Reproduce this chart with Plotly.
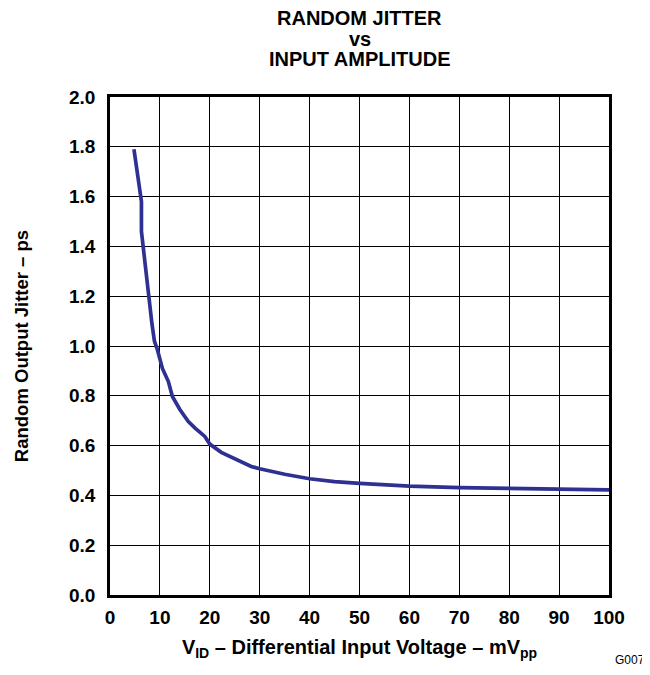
import plotly.graph_objects as go

vid_mvpp = [4.8, 5.5, 6.3, 6.3, 7.0, 7.7, 8.4, 8.9, 9.5, 10.5, 11.7, 12.5, 14.0, 15.7, 17.0, 19.0, 20.0,
            22.3, 25.0, 28.3, 30.0, 35.0, 40.0, 45.0, 50.0, 60.0, 70.0, 80.0, 90.0, 100.0]
jitter_ps = [1.79, 1.70, 1.58, 1.46, 1.33, 1.20, 1.09, 1.02, 0.985, 0.91, 0.857, 0.797, 0.745, 0.697, 0.671,
             0.637, 0.606, 0.573, 0.547, 0.516, 0.507, 0.485, 0.467, 0.455, 0.448, 0.437, 0.431, 0.428, 0.425, 0.422]

x_ticks = [0, 10, 20, 30, 40, 50, 60, 70, 80, 90, 100]
y_ticks = [0.0, 0.2, 0.4, 0.6, 0.8, 1.0, 1.2, 1.4, 1.6, 1.8, 2.0]

FONT = "Liberation Sans, Arial, sans-serif"

fig = go.Figure()
fig.add_trace(go.Scatter(x=vid_mvpp, y=jitter_ps, mode="lines",
                         line=dict(color="#2E3192", width=3.7), showlegend=False))

fig.update_layout(
    width=642, height=667,
    margin=dict(l=100, r=41, t=89, b=80),
    paper_bgcolor="white", plot_bgcolor="white",
    font=dict(family=FONT, color="black"),
)

fig.update_xaxes(
    range=[0, 100], tickvals=x_ticks, ticktext=[str(v) for v in x_ticks],
    showgrid=True, gridcolor="black", gridwidth=1,
    showline=True, linecolor="black", linewidth=2.5, mirror=True,
    ticks="", ticklabelstandoff=3,
    tickfont=dict(family=FONT, size=19, color="black", weight="bold"),
    zeroline=False,
    title=dict(text="V<sub>ID</sub> – Differential Input Voltage – mV<sub>pp</sub>",
               font=dict(family=FONT, size=20, color="black", weight="bold"), standoff=14),
)
fig.update_yaxes(
    range=[0, 2.0], tickvals=y_ticks, ticktext=[f"{v:.1f}" for v in y_ticks],
    showgrid=True, gridcolor="black", gridwidth=1,
    showline=True, linecolor="black", linewidth=2.5, mirror=True,
    ticks="", ticklabelstandoff=8,
    tickfont=dict(family=FONT, size=19, color="black", weight="bold"),
    zeroline=False,
    title=dict(text="Random Output Jitter – ps",
               font=dict(family=FONT, size=18.5, color="black", weight="bold"), standoff=36),
)

title_lines = ["RANDOM JITTER", "vs", "INPUT AMPLITUDE"]
title_shifts = [78.7, 58.3, 38]
for t, s in zip(title_lines, title_shifts):
    fig.add_annotation(text=f"<b>{t}</b>", xref="paper", yref="paper", x=0.5, y=1,
                       yshift=s, showarrow=False, yanchor="middle",
                       font=dict(family=FONT, size=20, color="black"))

fig.add_annotation(text="G007", xref="paper", yref="paper", x=1, y=0, xshift=38, yshift=-65,
                   showarrow=False, xanchor="right", yanchor="middle",
                   font=dict(family=FONT, size=12, color="black"))

fig.write_html("out.html")
